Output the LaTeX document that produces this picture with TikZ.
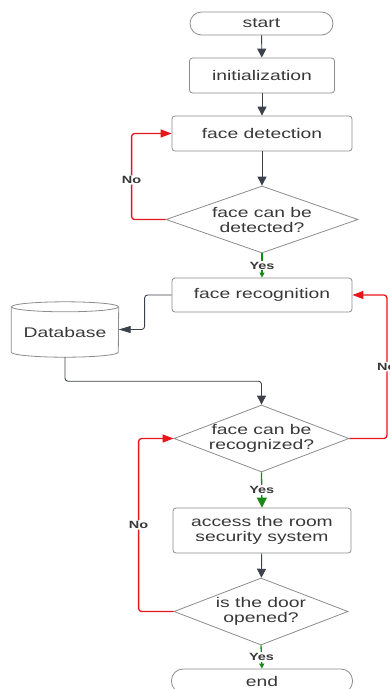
\documentclass[tikz,border=0pt]{standalone}
\usepackage{fontspec}
\setmainfont[FakeStretch=1.38]{Liberation Sans}
\usetikzlibrary{arrows.meta,shapes.geometric}
\definecolor{edgegray}{HTML}{8C8C8C}
\definecolor{linegray}{HTML}{3C424C}
\definecolor{txtgray}{HTML}{383838}
\definecolor{noRed}{HTML}{E8161C}
\definecolor{yesGreen}{HTML}{178A17}
\begin{document}
\begin{tikzpicture}[x=1pt,y=-1pt,
  font=\fontsize{14}{15}\selectfont, text=txtgray,
  box/.style={draw=edgegray, line width=0.8pt, rounded corners=3pt,
    minimum width=#1, minimum height=35pt, inner sep=0pt, align=center},
  terminal/.style={draw=edgegray, line width=0.8pt, rounded corners=11.5pt,
    minimum width=#1, minimum height=23pt, inner sep=0pt},
  decision/.style={diamond, draw=edgegray, line width=0.8pt,
    minimum width=#1, minimum height=67pt, inner sep=0pt},
  label text/.style={align=center, inner sep=0pt},
  arr/.style={draw=linegray, line width=0.9pt, -{Triangle[length=9pt,width=9pt]}},
  noln/.style={draw=noRed, line width=1.3pt, rounded corners=3pt,
    -{Triangle[length=11pt,width=8pt]}},
  yesln/.style={draw=yesGreen, line width=1.3pt},
  flag/.style={font=\fontsize{10.5}{12}\selectfont\bfseries, fill=white,
    inner sep=1pt, text=txtgray},
  cyl/.style={draw=edgegray, line width=0.8pt}
]
\useasboundingbox (0,0) rectangle (390,689);

% main column of steps
\node[terminal=143pt] (start) at (261.5,23.5) {start};
\node[box=145pt] (init) at (262,75.5) {initialization};
\node[box=180pt] (det) at (262,133.5) {face detection};
\node[decision=192pt] (d1) at (262,219.5) {};
\node[label text] (d1t) at (d1) {face can be\\detected?};
\node[box=180pt, minimum height=34pt] (rec) at (262,295) {face recognition};
\node[decision=175pt] (d2) at (261.5,438.5) {};
\node[label text] (d2t) at (d2) {face can be\\recognized?};
\node[box=178pt, minimum height=45pt] (acc) at (262,530.5) {access the room\\security system};
\node[decision=174pt] (d3) at (261,611.5) {};
\node[label text] (d3t) at (d3) {is the door\\opened?};
\node[terminal=181pt, minimum height=24pt] (fin) at (262,681) {end};

% database store
\node[minimum width=107pt, minimum height=55pt, inner sep=0pt] (db) at (65,329.5) {};
\draw[cyl] ([yshift=-5pt]db.north west) -- ([yshift=5pt]db.south west)
  arc[start angle=180, end angle=360, x radius=53.5pt, y radius=5pt]
  -- ([yshift=-5pt]db.north east);
\draw[cyl] ([yshift=-5pt]db.north) ellipse[x radius=53.5pt, y radius=5pt];
\node[label text] (dbt) at ([yshift=-3pt]db.center) {Database};

% straight flow
\draw[arr] (start) -- (init);
\draw[arr] (init) -- (det);
\draw[arr] (det) -- (d1);
\draw[arr] (acc) -- (d3);

% database links
\draw[arr, rounded corners=3pt, -{Triangle[length=12pt,width=7pt]}] (rec.west) -- ++(-27,0) |- (db.east);
\draw[arr, rounded corners=3pt] (db.south) -- ++(0,24) -| (d2.north);

% yes branches
\draw[yesln, -{Triangle[length=5pt,width=5pt]}] (d1.south) -- node[flag]{Yes} (rec.north);
\draw[yesln, -{Triangle[length=10pt,width=10pt]}] (d2.south) -- node[flag]{Yes} (acc.north);
\draw[yesln, -{Triangle[length=5pt,width=5pt]}] (d3.south) -- node[flag]{Yes} (fin.north);

% no branches
\draw[noln] (d1.west) -- ++(-34,0) |- node[flag, pos=0.23]{No} (det.west);
\draw[noln] (d2.east) -- ++(37.5,0) |- node[flag, pos=0.25]{No} (rec.east);
\draw[noln] (d3.west) -- ++(-35,0) |- node[flag, pos=0.25]{No} (d2.west);
\end{tikzpicture}
\end{document}
